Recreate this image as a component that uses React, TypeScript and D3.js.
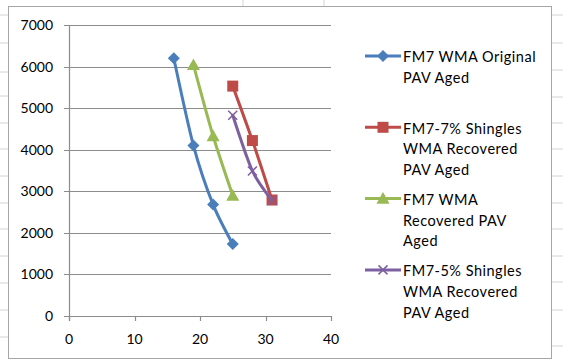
import React from "react";
import * as d3 from "d3";

// series values
const blueX = [16, 19, 22, 25];
const blueY = [6200, 4100, 2680, 1730];
const redX = [25, 28, 31];
const redY = [5530, 4220, 2790];
const greenX = [19, 22, 25];
const greenY = [6040, 4330, 2900];
const purpleX = [25, 28, 31];
const purpleY = [4830, 3490, 2780];

const seriesNames = [
  ["FM7 WMA Original", "PAV Aged"],
  ["FM7-7% Shingles", "WMA Recovered", "PAV Aged"],
  ["FM7 WMA", "Recovered PAV", "Aged"],
  ["FM7-5% Shingles", "WMA Recovered", "PAV Aged"],
];
const seriesColors = ["#4a7ebb", "#be4b48", "#98b954", "#7d60a0"];
const markerTypes = ["diamond", "square", "triangle", "x"];

const xTicks = [0, 10, 20, 30, 40];
const yTicks = [0, 1000, 2000, 3000, 4000, 5000, 6000, 7000];

// spreadsheet cell lines visible around the chart object
const sheetRowsLeft = [15, 43, 72, 96, 123, 149, 176, 203, 229, 256, 283, 310, 337];
const sheetRowsRight = [15, 43, 70, 97, 123, 149, 176, 203, 229, 256, 282, 310, 346];
const sheetCols = [243, 324];

const W = 563;
const H = 360;
const font = "Lato, 'Open Sans', sans-serif";

const Marker: React.FC<{ type: string; x: number; y: number; color: string }> = ({ type, x, y, color }) => {
  if (type === "diamond") {
    const r = 6;
    return <path d={`M${x},${y - r}L${x + r},${y}L${x},${y + r}L${x - r},${y}Z`} fill={color} />;
  }
  if (type === "square") {
    const s = 11;
    return <rect x={x - s / 2} y={y - s / 2} width={s} height={s} fill={color} />;
  }
  if (type === "triangle") {
    const r = 6.5;
    return <path d={`M${x},${y - r}L${x + r},${y + r * 0.8}L${x - r},${y + r * 0.8}Z`} fill={color} />;
  }
  const r = 4.5;
  return (
    <path
      d={`M${x - r},${y - r}L${x + r},${y + r}M${x - r},${y + r}L${x + r},${y - r}`}
      stroke={color}
      strokeWidth={1.5}
      fill="none"
    />
  );
};

export default function App() {
  const x = d3.scaleLinear().domain([0, 40]).range([69, 331]);
  const y = d3.scaleLinear().domain([0, 7000]).range([316, 25]);

  const series = [
    { xs: blueX, ys: blueY },
    { xs: redX, ys: redY },
    { xs: greenX, ys: greenY },
    { xs: purpleX, ys: purpleY },
  ];

  const line = d3
    .line<[number, number]>()
    .x((d) => x(d[0]))
    .y((d) => y(d[1]))
    .curve(d3.curveCardinal.tension(0.2));

  const legendX = 365;
  const legendTop = 56;
  const legendStep = 71.3;
  const lineH = 20.7;

  return (
    <svg
      width={W}
      height={H}
      style={{ position: "fixed", left: 0, top: 0, background: "#fff" }}
      fontFamily={font}
    >
      {/* sheet background lines */}
      {sheetRowsLeft.map((r, i) => (
        <line key={"l" + i} x1={0} x2={8} y1={r} y2={r} stroke="#d4d4d4" />
      ))}
      {sheetRowsRight.map((r, i) => (
        <line key={"r" + i} x1={552} x2={W} y1={r} y2={r} stroke="#d4d4d4" />
      ))}
      {sheetCols.map((c, i) => (
        <line key={"c" + i} x1={c} x2={c} y1={0} y2={6} stroke="#d4d4d4" />
      ))}

      {/* chart border */}
      <rect x={8.5} y={6.5} width={543} height={352} fill="#fff" stroke="#a6a6a6" />

      {/* gridlines and y ticks */}
      {yTicks.map((t) => (
        <g key={t}>
          <line x1={64} x2={x(40)} y1={Math.round(y(t)) + 0.5} y2={Math.round(y(t)) + 0.5} stroke="#8c8c8c" strokeWidth={1.2} />
          <text x={53} y={y(t)} dy="0.36em" textAnchor="end" fontSize={14} fill="#000">
            {t}
          </text>
        </g>
      ))}

      {/* y axis */}
      <line x1={69.5} x2={69.5} y1={y(7000)} y2={y(0) + 5} stroke="#8c8c8c" strokeWidth={1.2} />

      {/* x ticks */}
      {xTicks.map((t) => (
        <g key={t}>
          <line x1={Math.round(x(t)) + 0.5} x2={Math.round(x(t)) + 0.5} y1={y(0)} y2={y(0) + 5} stroke="#8c8c8c" strokeWidth={1.2} />
          <text x={x(t)} y={339} dy="0.36em" textAnchor="middle" fontSize={14} fill="#000">
            {t}
          </text>
        </g>
      ))}

      {/* series */}
      {series.map((s, i) => {
        const pts = s.xs.map((v, j) => [v, s.ys[j]] as [number, number]);
        return (
          <g key={i}>
            <path d={line(pts) || ""} fill="none" stroke={seriesColors[i]} strokeWidth={3} strokeLinejoin="round" strokeLinecap="round" />
            {pts.map((p, j) => (
              <Marker key={j} type={markerTypes[i]} x={x(p[0])} y={y(p[1])} color={seriesColors[i]} />
            ))}
          </g>
        );
      })}

      {/* legend */}
      {seriesNames.map((lines, i) => {
        const ly = legendTop + i * legendStep;
        return (
          <g key={i}>
            <line x1={legendX} x2={legendX + 36} y1={ly} y2={ly} stroke={seriesColors[i]} strokeWidth={3} />
            <Marker type={markerTypes[i]} x={legendX + 18} y={ly} color={seriesColors[i]} />
            {lines.map((txt, j) => (
              <text key={j} x={403} y={ly + 1 + j * lineH} dy="0.36em" fontSize={14.5} letterSpacing={0.5} fill="#000">
                {txt}
              </text>
            ))}
          </g>
        );
      })}
    </svg>
  );
}
